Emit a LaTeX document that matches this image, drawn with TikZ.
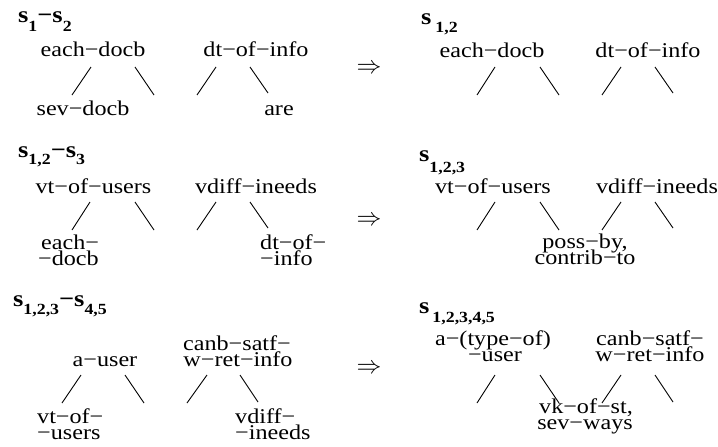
\documentclass[tikz,border=0pt]{standalone}
\usepackage{fontspec}
\setmainfont[FakeStretch=1.15]{Liberation Serif}
\newcommand\sbs[2][9pt]{\raisebox{-#1}{\fontsize{15.5}{15.5}\selectfont #2}}
\newcommand\txtfont{\fontsize{21}{16}\selectfont}
\newcommand\seg[5]{\coordinate (#1a) at (#2,#3); \coordinate (#1b) at (#4,#5); \draw[edge] (#1a) -- (#1b);}
\tikzset{
  txt/.style={inner sep=0pt, anchor=base, font=\txtfont},
  txtl/.style={txt, anchor=base west},
  lab/.style={inner sep=0pt, anchor=base west, font=\bfseries\fontsize{23}{23}\selectfont},
  arr/.style={inner sep=0pt, font=\fontsize{24}{24}\selectfont},
  edge/.style={line width=0.9pt}
}
\begin{document}
\begin{tikzpicture}[x=1pt,y=-1pt]
\useasboundingbox (0,0) rectangle (718,447);
% ---------- top left
\node[lab] (l1) at (18,23) {s\sbs{1}−s\sbs{2}};
\node[txt] (a1) at (93,56) {each−docb};
\node[txt] (a2) at (256,56) {dt−of−info};
\node[txt] (a3) at (83,115) {sev−docb};
\node[txt] (a4) at (279,115) {are};
\seg{e1}{91}{67}{72}{95}
\seg{e2}{135}{67}{154}{95}
\seg{e3}{216}{67}{197}{95}
\seg{e4}{250}{67}{268}{93}
\node[arr] (r1) at (369,69) {$\Rightarrow$};
% ---------- top right
\node[lab] (l2) at (421,24) {s\hspace{4pt}\sbs[8pt]{1,2}};
\node[txt] (b1) at (492,57) {each−docb};
\node[txt] (b2) at (648,57) {dt−of−info};
\seg{f1}{495}{67}{477}{95}
\seg{f2}{540}{67}{559}{95}
\seg{f3}{621}{67}{602}{95}
\seg{f4}{655}{67}{673}{93}
% ---------- middle left
\node[lab] (l3) at (18,157) {s\sbs[7pt]{1,2}−s\sbs[7pt]{3}};
\node[txt] (c1) at (93.5,193) {vt−of−users};
\node[txt] (c2) at (256,193) {vdiff−ineeds};
\node[txtl] (c3) at (41,249) {each−};
\node[txtl] (c3b) at (38,265) {−docb};
\node[txtl] (c4) at (260,249) {dt−of−};
\node[txtl] (c4b) at (260,265) {−info};
\seg{g1}{90}{202}{72}{230}
\seg{g2}{135}{202}{154}{230}
\seg{g3}{216}{202}{197}{230}
\seg{g4}{250}{202}{268}{228}
\node[arr] (r2) at (369,221) {$\Rightarrow$};
% ---------- middle right
\node[lab] (l4) at (419,161) {s\sbs[11pt]{1,2,3}};
\node[txt] (d1) at (493,193) {vt−of−users};
\node[txt] (d2) at (657,193) {vdiff−ineeds};
\node[txt] (d3) at (585,248) {poss−by,};
\node[txt] (d3b) at (585,264) {contrib−to};
\seg{h1}{495}{202}{477}{230}
\seg{h2}{540}{202}{559}{230}
\seg{h3}{621}{202}{602}{230}
\seg{h4}{655}{202}{673}{228}
% ---------- bottom left
\node[lab] (l5) at (13,306) {s\sbs[8pt]{1,2,3}−s\sbs[8pt]{4,5}};
\node[txt] (p1) at (105,366) {a−user};
\node[txt] (p2) at (237,350) {canb−satf−};
\node[txt] (p2b) at (238,366) {w−ret−info};
\node[txtl] (p3) at (37,423) {vt−of−};
\node[txtl] (p3b) at (37,439) {−users};
\node[txtl] (p4) at (235,423) {vdiff−};
\node[txtl] (p4b) at (235,439) {−ineeds};
\seg{i1}{81}{375}{62}{403}
\seg{i2}{125}{375}{144}{403}
\seg{i3}{207}{375}{187}{403}
\seg{i4}{240}{375}{258}{402}
\node[arr] (r3) at (369,369) {$\Rightarrow$};
% ---------- bottom right
\node[lab] (l6) at (419,313) {s\hspace{3pt}\sbs[9pt]{1,2,3,4,5}};
\node[txt] (q1) at (493,345) {a−(type−of)};
\node[txt] (q1b) at (495,361) {−user};
\node[txt] (q2) at (650,345) {canb−satf−};
\node[txt] (q2b) at (650,361) {w−ret−info};
\node[txt] (q3) at (586,413) {vk−of−st,};
\node[txt] (q3b) at (585,429) {sev−ways};
\seg{j1}{495}{375}{477}{403}
\seg{j2}{540}{375}{559}{403}
\seg{j3}{621}{375}{602}{403}
\seg{j4}{655}{375}{673}{402}
\end{tikzpicture}
\end{document}
